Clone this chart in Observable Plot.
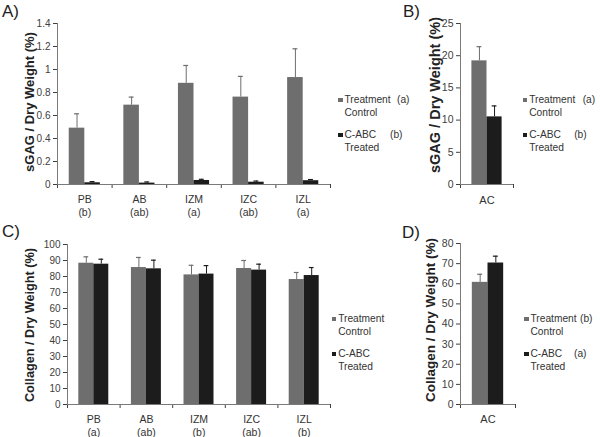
<!DOCTYPE html>
<html><head><meta charset="utf-8">
<script src="https://cdn.jsdelivr.net/npm/d3@7"></script>
<script src="https://cdn.jsdelivr.net/npm/@observablehq/plot@0.6"></script>
<style>
body{margin:0;background:#fff;font-family:"Liberation Sans",Arial,sans-serif;}
#root{position:relative;width:600px;height:437px;overflow:hidden;background:#fff;}
.abs{position:absolute;}
.letter{font-size:17px;line-height:17px;color:#222;white-space:nowrap;}
.ytitle{font-weight:bold;color:#222;white-space:nowrap;transform:translate(-50%,-50%) rotate(-90deg);line-height:1;}
.leg{font-size:10.2px;line-height:12px;color:#333;white-space:nowrap;}
.sw{width:4.6px;height:4.6px;}
svg{overflow:visible;}
</style></head>
<body><div id="root"></div>
<script>
// ---- data ----
const regions = ["PB", "AB", "IZM", "IZC", "IZL"];
const gagLetters = ["b", "ab", "a", "ab", "a"];
const colLetters = ["a", "ab", "b", "ab", "b"];
const acCat = ["AC"];
const seriesNames = ["Treatment Control", "C-ABC Treated"];

const gagControl    = [0.49, 0.69, 0.88, 0.76, 0.93];
const gagControlErr = [0.125, 0.07, 0.155, 0.18, 0.25];
const gagTreated    = [0.015, 0.012, 0.035, 0.02, 0.033];
const gagTreatedErr = [0.01, 0.01, 0.01, 0.01, 0.01];

const acGagControl = [19.2], acGagControlErr = [2.2];
const acGagTreated = [10.5], acGagTreatedErr = [1.7];

const colControl    = [88.3, 85.6, 81.0, 85.0, 78.1];
const colControlErr = [4.0, 6.3, 6.0, 5.0, 4.4];
const colTreated    = [87.7, 84.8, 81.5, 84.0, 80.6];
const colTreatedErr = [3.1, 5.4, 5.3, 3.7, 5.0];

const acColControl = [60.7], acColControlErr = [4.0];
const acColTreated = [70.3], acColTreatedErr = [3.4];

// ---- style ----
const COLORS = ["#6e6e6e", "#1c1c1c"];
const AXIS = "#7a7a7a";
const root = document.getElementById("root");

function panel(o) {
  const rows = [];
  o.cats.forEach((c, i) => {
    rows.push({i, s: 0, v: o.control[i], e: o.controlErr[i]});
    rows.push({i, s: 1, v: o.treated[i], e: o.treatedErr[i]});
  });
  const left = d => d.i + (d.s ? 0.5 : 0.215);
  const right = d => d.i + (d.s ? 0.785 : 0.5);
  const mid = d => (left(d) + right(d)) / 2;
  const svg = Plot.plot({
    width: o.width, height: o.height,
    marginLeft: o.ml, marginRight: o.mr, marginTop: o.mt, marginBottom: o.mb,
    style: {fontFamily: "Liberation Sans, Arial, sans-serif", fontSize: o.tickFont + "px", color: "#404040", background: "transparent"},
    color: {type: "identity"},
    x: {domain: [0, o.cats.length], ticks: o.cats.length, tickFormat: () => "", tickSize: 4, label: null},
    y: {domain: [0, o.yMax], ticks: o.yTicks, tickFormat: d => String(+d.toFixed(1)), tickSize: 4, tickPadding: 3, label: null},
    marks: [
      Plot.rect(rows, {x1: left, x2: right, y1: 0, y2: "v", fill: d => COLORS[d.s]}),
      Plot.ruleX(rows, {x: mid, y1: "v", y2: d => d.v + d.e, stroke: d => COLORS[d.s], strokeWidth: 1}),
      Plot.ruleY(rows, {y: d => d.v + d.e, x1: d => mid(d) - 0.045, x2: d => mid(d) + 0.045, stroke: d => COLORS[d.s], strokeWidth: 1.2}),
      Plot.ruleY([0], {stroke: AXIS}),
      Plot.ruleX([0], {stroke: AXIS}),
      Plot.text(o.cats, {
        x: (d, i) => i + 0.5, frameAnchor: "bottom", lineAnchor: "top", dy: o.catDy,
        text: (d, i) => o.letters ? d + "\n(" + o.letters[i] + ")" : d,
        fontSize: o.catFont, lineHeight: o.catLH, fill: "#333"
      })
    ]
  });
  svg.style.position = "absolute";
  svg.style.left = o.left + "px";
  svg.style.top = o.top + "px";
  root.appendChild(svg);
}

function addText(cls, txt, x, y, extra) {
  const d = document.createElement("div");
  d.className = "abs " + cls;
  d.textContent = txt;
  d.style.left = x + "px";
  d.style.top = y + "px";
  if (extra) Object.assign(d.style, extra);
  root.appendChild(d);
  return d;
}

function yTitle(txt, cx, cy, size) {
  addText("ytitle", txt, cx, cy, {fontSize: size + "px"});
}

function legend(x, y, letters, lx) {
  // y = top of first swatch
  const names = seriesNames.map(s => s.split(" "));
  const rowsY = [y, y + 35];
  names.forEach((parts, k) => {
    const sq = document.createElement("div");
    sq.className = "abs sw";
    sq.style.left = x + "px"; sq.style.top = rowsY[k] + "px";
    sq.style.background = COLORS[k];
    root.appendChild(sq);
    addText("leg", parts[0], x + 6.5, rowsY[k] - 3.7);
    addText("leg", parts[1], x + 6.5, rowsY[k] + 9.3);
    if (letters) addText("leg", "(" + letters[k] + ")", x + lx[k], rowsY[k] - 3.7);
  });
}

// Panel A
panel({cats: regions, letters: gagLetters, control: gagControl, controlErr: gagControlErr,
  treated: gagTreated, treatedErr: gagTreatedErr, yMax: 1.4, yTicks: 7,
  left: 0, top: 0, width: 335, height: 222, ml: 57, mr: 5, mt: 23, mb: 38,
  tickFont: 10, catFont: 10.5, catDy: 9.5, catLH: 1.22});
// Panel B
panel({cats: acCat, letters: null, control: acGagControl, controlErr: acGagControlErr,
  treated: acGagTreated, treatedErr: acGagTreatedErr, yMax: 25, yTicks: 5,
  left: 400, top: 0, width: 118, height: 222, ml: 60, mr: 5, mt: 23, mb: 38,
  tickFont: 10.5, catFont: 11, catDy: 9.5, catLH: 1.22});
// Panel C
panel({cats: regions, letters: colLetters, control: colControl, controlErr: colControlErr,
  treated: colTreated, treatedErr: colTreatedErr, yMax: 100, yTicks: 10,
  left: 0, top: 220, width: 335, height: 217, ml: 67, mr: 5, mt: 24, mb: 33,
  tickFont: 10, catFont: 10.5, catDy: 9.5, catLH: 1.2});
// Panel D
panel({cats: acCat, letters: null, control: acColControl, controlErr: acColControlErr,
  treated: acColTreated, treatedErr: acColTreatedErr, yMax: 80, yTicks: 8,
  left: 400, top: 220, width: 120, height: 217, ml: 60, mr: 5, mt: 23, mb: 33,
  tickFont: 10.5, catFont: 11, catDy: 9.5, catLH: 1.2});

// Panel letters
addText("letter", "A)", 2, 2.6);
addText("letter", "B)", 403, 2.6);
addText("letter", "C)", 2, 222.6);
addText("letter", "D)", 402, 223.6);

// Axis titles
yTitle("sGAG / Dry Weight (%)", 29, 102, 13);
yTitle("sGAG / Dry Weight (%)", 435, 95, 14.5);
yTitle("Collagen / Dry Weight (%)", 30, 325, 12.7);
yTitle("Collagen / Dry Weight (%)", 431, 320, 13.5);

// Legends
legend(338, 97.7, ["a", "b"], [59, 52]);
legend(522.7, 97.7, ["a", "b"], [60, 51.5]);
legend(331.7, 316.7, null, null);
legend(524, 316.7, ["b", "a"], [56, 50]);
</script></body></html>
